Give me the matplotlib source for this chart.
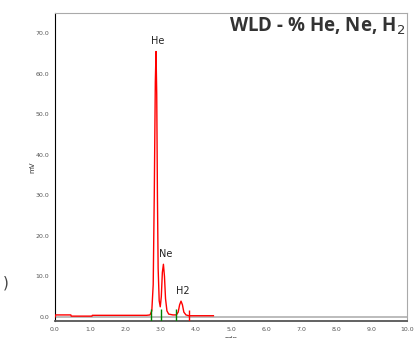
import matplotlib.pyplot as plt

# chromatogram trace (time in min, signal)
time = [0.0, 0.02, 0.45, 0.46, 1.05, 1.06, 2.6, 2.70, 2.75, 2.79, 2.82, 2.85, 2.87,
        2.89, 2.91, 2.93, 2.96, 2.99, 3.02, 3.05, 3.08, 3.11, 3.14, 3.18, 3.23,
        3.35, 3.45, 3.50, 3.54, 3.58, 3.62, 3.66, 3.72, 3.80, 4.5]
signal = [0.0, 0.5, 0.5, 0.2, 0.2, 0.4, 0.4, 0.5, 1.5, 8.0, 30.0, 58.0, 65.5,
          55.0, 30.0, 12.0, 4.0, 2.5, 5.0, 11.0, 13.0, 10.0, 4.5, 1.5, 0.7,
          0.5, 0.5, 1.2, 3.0, 3.9, 3.0, 1.2, 0.5, 0.3, 0.3]

# peak labels
peak_names = ['He', 'Ne', 'H2']
peak_times = [2.87, 3.08, 3.58]
peak_heights = [65.5, 13.0, 3.9]

# integration markers
green_marks = [2.72, 3.0, 3.45]
red_marks = [3.8]

xticks = [0, 1, 2, 3, 4, 5, 6, 7, 8, 9, 10]
yticks = [0, 10, 20, 30, 40, 50, 60, 70]


def main():
    fig = plt.figure(figsize=(4.16, 3.38), dpi=100)
    ax = fig.add_axes([55 / 416, 17 / 338, 352 / 416, 308 / 338])

    ax.axhline(0, color='#b0b0b0', lw=1.2, zorder=1)
    ax.plot(time, signal, color='red', lw=1.0, zorder=3)
    ax.vlines(green_marks, -1, 2.0, color='green', lw=1.0, zorder=4)
    ax.vlines(red_marks, -1, 1.8, color='red', lw=1.0, zorder=4)

    for name, t, h in zip(peak_names, peak_times, peak_heights):
        ax.text(t + 0.06, h + 1.3, name, fontsize=7, ha='center', va='bottom',
                color='#222222')

    ax.set_xlim(0, 10)
    ax.set_ylim(-1, 75)
    ax.set_xticks(xticks)
    ax.set_xticklabels([f'{v:.1f}' for v in xticks])
    ax.set_yticks(yticks)
    ax.set_yticklabels([f'{v:.1f}' for v in yticks])
    ax.tick_params(labelsize=4.5, labelcolor='#555555', length=0, pad=4)

    ax.spines['left'].set_color('black')
    ax.spines['bottom'].set_color('#555555')
    ax.spines['bottom'].set_linewidth(1.3)
    ax.spines['top'].set_color('#aaaaaa')
    ax.spines['right'].set_color('#aaaaaa')

    ax.set_ylabel('mV', fontsize=5, color='#333333', labelpad=0)
    ax.set_xlabel('min', fontsize=5, color='#333333', labelpad=3)

    ax.text(0.995, 0.99, 'WLD - % He, Ne, H$_2$', transform=ax.transAxes,
            ha='right', va='top', fontsize=13.5, fontweight='bold',
            family='Open Sans', color='#333333')
    fig.text(0.008, 0.15, ')', fontsize=11, color='#444444')

    fig.savefig('out.png', dpi=100)


if __name__ == "__main__":
    main()
